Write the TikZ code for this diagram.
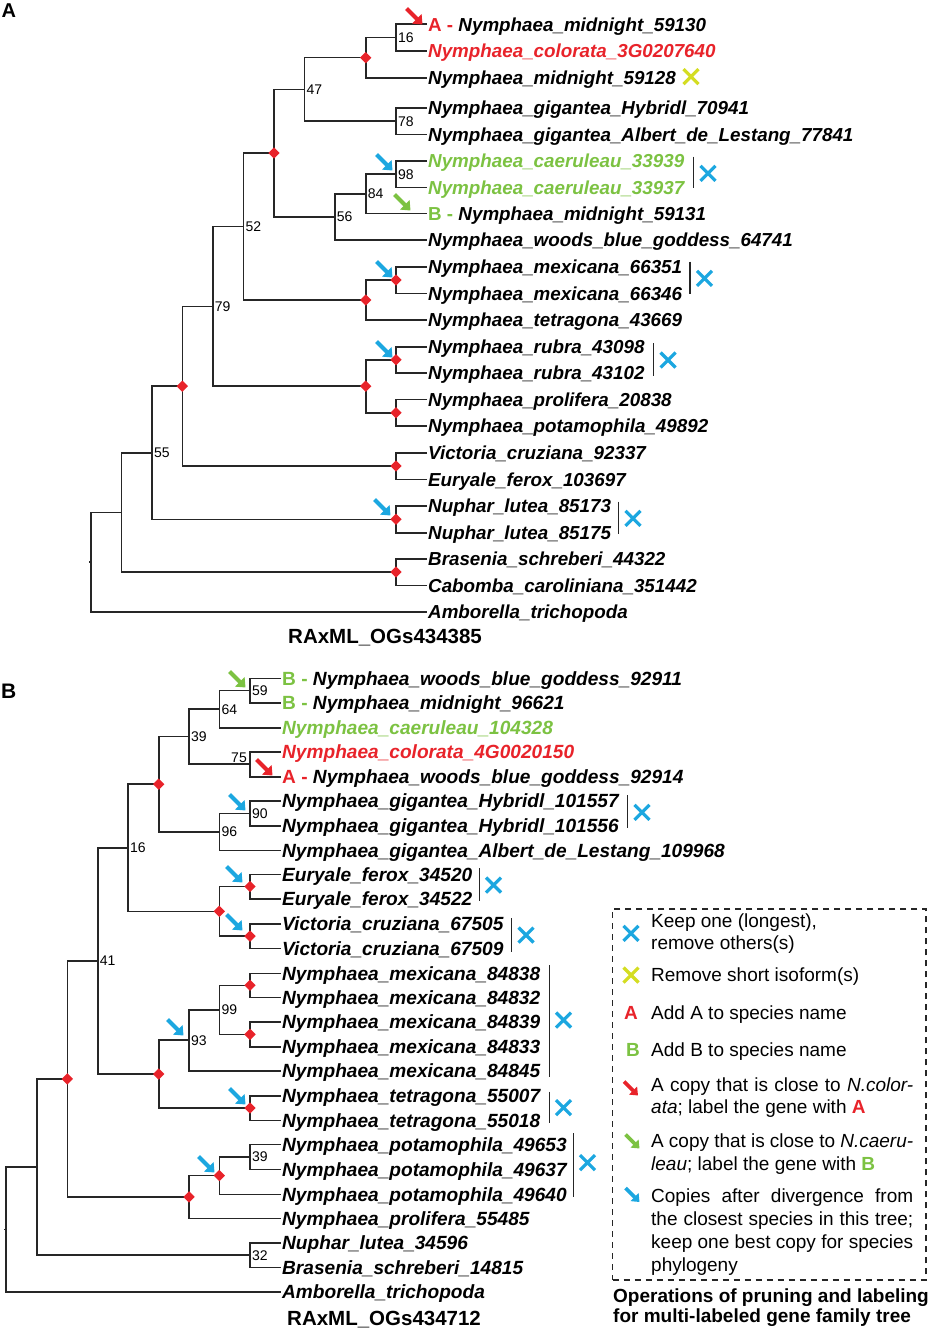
\documentclass[tikz,border=0pt]{standalone}
\usepackage{fontspec}
\setmainfont{Liberation Sans}
\usetikzlibrary{shapes.geometric,arrows.meta}
\definecolor{tred}{HTML}{E8232A}
\definecolor{tgreen}{HTML}{7CC242}
\definecolor{tblue}{HTML}{1CA7E0}
\definecolor{tyellow}{HTML}{D4DD22}
\begin{document}
\begin{tikzpicture}[x=1pt,y=-1pt,
  br/.style={line width=1.6pt,draw=black!85},
  bar/.style={line width=1.5pt,draw=black!85},
  labA/.style={anchor=west,inner xsep=1pt,inner ysep=0pt,text height=13.5pt,text depth=0pt,font=\fontsize{18.8}{20}\selectfont\bfseries\itshape},
  labB/.style={anchor=west,inner xsep=1pt,inner ysep=0pt,text height=13.5pt,text depth=0pt,font=\fontsize{19.1}{20}\selectfont\bfseries\itshape},
  sup/.style={anchor=west,inner xsep=1pt,inner ysep=0pt,text height=10pt,text depth=0pt,font=\fontsize{14}{15}\selectfont},
  dia/.style={diamond,fill=tred,inner sep=0pt,minimum size=11.5pt},
  leg/.style={anchor=base west,inner sep=0pt,font=\fontsize{19}{22}\selectfont},
  legt/.style={anchor=base west,inner sep=0pt,font=\fontsize{19}{22}\selectfont\bfseries},
  pics/xm/.style={code={\draw[line width=3.2pt,#1] (-7.5,-7.5)--(7.5,7.5) (-7.5,7.5)--(7.5,-7.5);}},
  pics/ar/.style={code={\draw[line width=4.2pt,#1,-{Triangle[width=13pt,length=8pt]}] (-8,-8)--(8,8);}},
  pics/ars/.style={code={\draw[line width=3.6pt,#1,-{Triangle[width=11pt,length=7pt]}] (-7,-7)--(7,7);}}
]
\useasboundingbox (0,0) rectangle (934,1330);

% ---------------- Panel A ----------------
\node[anchor=base west,inner sep=0pt,font=\fontsize{20}{22}\selectfont\bfseries] (pA) at (1.5,18) {A};

\node[labA] (tA1) at (427,24.3) {{\upshape\color{tred}A -} Nymphaea\_midnight\_59130};
\node[labA,text=tred] (tA2) at (427,51) {Nymphaea\_colorata\_3G0207640};
\node[labA] (tA3) at (427,77.7) {Nymphaea\_midnight\_59128};
\node[labA] (tA4) at (427,107.7) {Nymphaea\_gigantea\_Hybridl\_70941};
\node[labA] (tA5) at (427,134.3) {Nymphaea\_gigantea\_Albert\_de\_Lestang\_77841};
\node[labA,text=tgreen] (tA6) at (427,160.7) {Nymphaea\_caeruleau\_33939};
\node[labA,text=tgreen] (tA7) at (427,187.3) {Nymphaea\_caeruleau\_33937};
\node[labA] (tA8) at (427,213.3) {{\upshape\color{tgreen}B -} Nymphaea\_midnight\_59131};
\node[labA] (tA9) at (427,240) {Nymphaea\_woods\_blue\_goddess\_64741};
\node[labA] (tA10) at (427,266.7) {Nymphaea\_mexicana\_66351};
\node[labA] (tA11) at (427,293.3) {Nymphaea\_mexicana\_66346};
\node[labA] (tA12) at (427,320) {Nymphaea\_tetragona\_43669};
\node[labA] (tA13) at (427,346.7) {Nymphaea\_rubra\_43098};
\node[labA] (tA14) at (427,372.7) {Nymphaea\_rubra\_43102};
\node[labA] (tA15) at (427,399.3) {Nymphaea\_prolifera\_20838};
\node[labA] (tA16) at (427,426) {Nymphaea\_potamophila\_49892};
\node[labA] (tA17) at (427,452.7) {Victoria\_cruziana\_92337};
\node[labA] (tA18) at (427,479.3) {Euryale\_ferox\_103697};
\node[labA] (tA19) at (427,506) {Nuphar\_lutea\_85173};
\node[labA] (tA20) at (427,532.7) {Nuphar\_lutea\_85175};
\node[labA] (tA21) at (427,558.7) {Brasenia\_schreberi\_44322};
\node[labA] (tA22) at (427,585.3) {Cabomba\_caroliniana\_351442};
\node[labA] (tA23) at (427,612) {Amborella\_trichopoda};

\coordinate (n16) at (396,37.7);
\coordinate (nA1) at (365.7,57.7);
\coordinate (n78) at (396,121);
\coordinate (n47) at (304.3,89.3);
\coordinate (n98) at (396,174);
\coordinate (n84) at (365.7,193.7);
\coordinate (n56) at (334.7,216.8);
\coordinate (nD2) at (274,153);
\coordinate (nMex) at (396,280);
\coordinate (nMT) at (365.7,300);
\coordinate (n52) at (243.3,226.5);
\coordinate (nRub) at (396,359.7);
\coordinate (nPP) at (396,412.7);
\coordinate (nRP) at (365.7,386.2);
\coordinate (n79) at (212.7,306.3);
\coordinate (nVE) at (396,466);
\coordinate (nD3) at (182.3,386.2);
\coordinate (nNu) at (396,519.3);
\coordinate (n55) at (152,452.8);
\coordinate (nBC) at (396,572);
\coordinate (nX) at (121.3,512.4);
\coordinate (rA) at (91,562.2);

\draw[br] (tA1.west) -| (n16) |- (tA2.west);
\draw[br] (n16) -| (nA1) |- (tA3.west);
\draw[br] (tA4.west) -| (n78) |- (tA5.west);
\draw[br] (nA1) -| (n47) |- (n78);
\draw[br] (tA6.west) -| (n98) |- (tA7.west);
\draw[br] (n98) -| (n84) |- (tA8.west);
\draw[br] (n84) -| (n56) |- (tA9.west);
\draw[br] (n47) -| (nD2) |- (n56);
\draw[br] (tA10.west) -| (nMex) |- (tA11.west);
\draw[br] (nMex) -| (nMT) |- (tA12.west);
\draw[br] (nD2) -| (n52) |- (nMT);
\draw[br] (tA13.west) -| (nRub) |- (tA14.west);
\draw[br] (tA15.west) -| (nPP) |- (tA16.west);
\draw[br] (nRub) -| (nRP) |- (nPP);
\draw[br] (n52) -| (n79) |- (nRP);
\draw[br] (tA17.west) -| (nVE) |- (tA18.west);
\draw[br] (n79) -| (nD3) |- (nVE);
\draw[br] (tA19.west) -| (nNu) |- (tA20.west);
\draw[br] (nD3) -| (n55) |- (nNu);
\draw[br] (tA21.west) -| (nBC) |- (tA22.west);
\draw[br] (n55) -| (nX) |- (nBC);
\draw[br] (nX) -| (rA) |- (tA23.west);
\draw[br] (rA) -- ++(-2,0);

\foreach \c in {nA1,nD2,nMex,nMT,nRub,nPP,nRP,nVE,nD3,nNu,nBC}
  \node[dia] (d\c) at (\c) {};

\node[sup] (sA16) at (397,37.7) {16};
\node[sup] (sA47) at (305.3,89.3) {47};
\node[sup] (sA78) at (397,121) {78};
\node[sup] (sA98) at (397,174) {98};
\node[sup] (sA84) at (366.7,193.7) {84};
\node[sup] (sA56) at (335.7,216.8) {56};
\node[sup] (sA52) at (244.3,226.5) {52};
\node[sup] (sA79) at (213.7,306.3) {79};
\node[sup] (sA55) at (153,452.8) {55};

\pic at (414.5,16.5) {ar=tred};
\pic at (384.5,162.5) {ar=tblue};
\pic at (402.5,202.5) {ar=tgreen};
\pic at (384.5,269.5) {ar=tblue};
\pic at (384.5,349.5) {ar=tblue};
\pic at (382.5,507.5) {ar=tblue};

\pic at (691,76.7) {xm=tyellow};
\draw[bar] (693.3,156.7) -- (693.3,188.3);
\pic at (708,173.3) {xm=tblue};
\draw[bar] (690,261.7) -- (690,294);
\pic at (704.5,278.3) {xm=tblue};
\draw[bar] (653.3,343.3) -- (653.3,376);
\pic at (668,360) {xm=tblue};
\draw[bar] (618.3,501.7) -- (618.3,534.3);
\pic at (633,518.3) {xm=tblue};

\node[anchor=base west,inner sep=0pt,font=\fontsize{20.5}{22}\selectfont\bfseries] (titA) at (288,643.3) {RAxML\_OGs434385};

% ---------------- Panel B ----------------
\node[anchor=base west,inner sep=0pt,font=\fontsize{21}{22}\selectfont\bfseries] (pB) at (1,698) {B};

\node[labB] (tB1) at (281,678.3) {{\upshape\color{tgreen}B -} Nymphaea\_woods\_blue\_goddess\_92911};
\node[labB] (tB2) at (281,702.7) {{\upshape\color{tgreen}B -} Nymphaea\_midnight\_96621};
\node[labB,text=tgreen] (tB3) at (281,727.7) {Nymphaea\_caeruleau\_104328};
\node[labB,text=tred] (tB4) at (281,751.7) {Nymphaea\_colorata\_4G0020150};
\node[labB] (tB5) at (281,776.7) {{\upshape\color{tred}A -} Nymphaea\_woods\_blue\_goddess\_92914};
\node[labB] (tB6) at (281,801) {Nymphaea\_gigantea\_Hybridl\_101557};
\node[labB] (tB7) at (281,825.7) {Nymphaea\_gigantea\_Hybridl\_101556};
\node[labB] (tB8) at (281,850.3) {Nymphaea\_gigantea\_Albert\_de\_Lestang\_109968};
\node[labB] (tB9) at (281,874.3) {Euryale\_ferox\_34520};
\node[labB] (tB10) at (281,898.7) {Euryale\_ferox\_34522};
\node[labB] (tB11) at (281,924) {Victoria\_cruziana\_67505};
\node[labB] (tB12) at (281,948.3) {Victoria\_cruziana\_67509};
\node[labB] (tB13) at (281,973.3) {Nymphaea\_mexicana\_84838};
\node[labB] (tB14) at (281,997.3) {Nymphaea\_mexicana\_84832};
\node[labB] (tB15) at (281,1022) {Nymphaea\_mexicana\_84839};
\node[labB] (tB16) at (281,1046.7) {Nymphaea\_mexicana\_84833};
\node[labB] (tB17) at (281,1070.7) {Nymphaea\_mexicana\_84845};
\node[labB] (tB18) at (281,1095.7) {Nymphaea\_tetragona\_55007};
\node[labB] (tB19) at (281,1120.3) {Nymphaea\_tetragona\_55018};
\node[labB] (tB20) at (281,1144.3) {Nymphaea\_potamophila\_49653};
\node[labB] (tB21) at (281,1169.3) {Nymphaea\_potamophila\_49637};
\node[labB] (tB22) at (281,1194.3) {Nymphaea\_potamophila\_49640};
\node[labB] (tB23) at (281,1218.3) {Nymphaea\_prolifera\_55485};
\node[labB] (tB24) at (281,1243) {Nuphar\_lutea\_34596};
\node[labB] (tB25) at (281,1267.3) {Brasenia\_schreberi\_14815};
\node[labB] (tB26) at (281,1292) {Amborella\_trichopoda};

\coordinate (b59) at (250,690.5);
\coordinate (b64) at (219.3,709.1);
\coordinate (b75) at (250,764.2);
\coordinate (b39) at (189,736.65);
\coordinate (b90) at (250,813.35);
\coordinate (b96) at (219.3,831.8);
\coordinate (bD1) at (158.7,784.2);
\coordinate (bEu) at (250,886.5);
\coordinate (bVi) at (250,936.15);
\coordinate (bD2) at (219.3,911.3);
\coordinate (b16) at (128,847.8);
\coordinate (bM1) at (250,985.3);
\coordinate (bM2) at (250,1034.35);
\coordinate (b99) at (219.3,1009.8);
\coordinate (b93) at (189,1040.25);
\coordinate (bT) at (250,1108);
\coordinate (bD3) at (158.7,1074.1);
\coordinate (b41) at (97.7,960.95);
\coordinate (bP39) at (250,1156.8);
\coordinate (bPD) at (219.3,1175.55);
\coordinate (bPP) at (189,1196.9);
\coordinate (bD4) at (67.3,1078.9);
\coordinate (b32) at (250,1255.15);
\coordinate (bN) at (36.7,1167);
\coordinate (rB) at (6,1229.5);

\draw[br] (tB1.west) -| (b59) |- (tB2.west);
\draw[br] (b59) -| (b64) |- (tB3.west);
\draw[br] (tB4.west) -| (b75) |- (tB5.west);
\draw[br] (b64) -| (b39) |- (b75);
\draw[br] (tB6.west) -| (b90) |- (tB7.west);
\draw[br] (b90) -| (b96) |- (tB8.west);
\draw[br] (b39) -| (bD1) |- (b96);
\draw[br] (tB9.west) -| (bEu) |- (tB10.west);
\draw[br] (tB11.west) -| (bVi) |- (tB12.west);
\draw[br] (bEu) -| (bD2) |- (bVi);
\draw[br] (bD1) -| (b16) |- (bD2);
\draw[br] (tB13.west) -| (bM1) |- (tB14.west);
\draw[br] (tB15.west) -| (bM2) |- (tB16.west);
\draw[br] (bM1) -| (b99) |- (bM2);
\draw[br] (b99) -| (b93) |- (tB17.west);
\draw[br] (tB18.west) -| (bT) |- (tB19.west);
\draw[br] (b93) -| (bD3) |- (bT);
\draw[br] (b16) -| (b41) |- (bD3);
\draw[br] (tB20.west) -| (bP39) |- (tB21.west);
\draw[br] (bP39) -| (bPD) |- (tB22.west);
\draw[br] (bPD) -| (bPP) |- (tB23.west);
\draw[br] (b41) -| (bD4) |- (bPP);
\draw[br] (tB24.west) -| (b32) |- (tB25.west);
\draw[br] (bD4) -| (bN) |- (b32);
\draw[br] (bN) -| (rB) |- (tB26.west);
\draw[br] (rB) -- ++(-2,0);

\foreach \c in {bD1,bEu,bVi,bD2,bM1,bM2,bT,bD3,bD4,bPD,bPP}
  \node[dia] (d\c) at (\c) {};

\node[sup] (sB59) at (251,690.5) {59};
\node[sup] (sB64) at (220.3,709.1) {64};
\node[sup] (sB39) at (190,736.65) {39};
\node[sup,anchor=east] (sB75) at (248,757.3) {75};
\node[sup] (sB90) at (251,813.35) {90};
\node[sup] (sB96) at (220.3,831.8) {96};
\node[sup] (sB16) at (129,847.8) {16};
\node[sup] (sB41) at (98.7,960.95) {41};
\node[sup] (sB99) at (220.3,1009.8) {99};
\node[sup] (sB93) at (190,1040.25) {93};
\node[sup] (sBp39) at (251,1156.8) {39};
\node[sup] (sB32) at (251,1255.15) {32};

\pic at (237.5,679.5) {ar=tgreen};
\pic at (264.5,767.5) {ar=tred};
\pic at (237.5,802.5) {ar=tblue};
\pic at (234.5,874.5) {ar=tblue};
\pic at (234.5,922.5) {ar=tblue};
\pic at (175.5,1027.5) {ar=tblue};
\pic at (237.5,1096.5) {ar=tblue};
\pic at (206.5,1164.5) {ar=tblue};

\draw[bar] (627.7,795) -- (627.7,828.3);
\pic at (642,812.3) {xm=tblue};
\draw[bar] (479.3,868.3) -- (479.3,900.7);
\pic at (493.5,885) {xm=tblue};
\draw[bar] (511.7,918.3) -- (511.7,951.7);
\pic at (526,935) {xm=tblue};
\draw[bar] (549.3,965) -- (549.3,1076.7);
\pic at (563.5,1020) {xm=tblue};
\draw[bar] (549.3,1091.7) -- (549.3,1123.3);
\pic at (563.5,1107.7) {xm=tblue};
\draw[bar] (573.3,1133.3) -- (573.3,1196.7);
\pic at (587.5,1162.7) {xm=tblue};

\node[anchor=base west,inner sep=0pt,font=\fontsize{20.5}{22}\selectfont\bfseries] (titB) at (287,1325) {RAxML\_OGs434712};

% ---------------- Legend ----------------
\node[draw=black!85,line width=1.2pt,dash pattern=on 6pt off 5pt,minimum width=313.3pt,minimum height=371pt,inner sep=0pt] (legend) at (769.35,1094.5) {};

\pic at (631,933.3) {xm=tblue};
\pic at (631,975) {xm=tyellow};
\node[anchor=base,inner sep=0pt,font=\fontsize{19}{22}\selectfont\bfseries,text=tred] (lgA) at (631,1019.3) {A};
\node[anchor=base,inner sep=0pt,font=\fontsize{19}{22}\selectfont\bfseries,text=tgreen] (lgB) at (633,1056) {B};
\pic at (631,1088.5) {ars=tred};
\pic at (632.5,1141.5) {ars=tgreen};
\pic at (632.5,1195) {ars=tblue};

\node[leg] (l1) at (651,927.3) {Keep one (longest),};
\node[leg] (l2) at (651,949.5) {remove others(s)};
\node[leg] (l3) at (651,981) {Remove short isoform(s)};
\node[leg] (l4) at (651,1019.3) {Add A to species name};
\node[leg] (l5) at (651,1056) {Add B to species name};
\node[leg] (l6) at (651,1091.7) {\makebox[262pt][s]{A copy that is close to \textit{N.color-}}};
\node[leg] (l7) at (651,1113.5) {\textit{ata}; label the gene with {\bfseries\color{tred}A}};
\node[leg] (l8) at (651,1147.3) {\makebox[262pt][s]{A copy that is close to \textit{N.caeru-}}};
\node[leg] (l9) at (651,1170) {\textit{leau}; label the gene with {\bfseries\color{tgreen}B}};
\node[leg] (l10) at (651,1202.3) {\makebox[262pt][s]{Copies after divergence from}};
\node[leg] (l11) at (651,1225.3) {\makebox[262pt][s]{the closest species in this tree;}};
\node[leg] (l12) at (651,1248.3) {\makebox[262pt][s]{keep one best copy for species}};
\node[leg] (l13) at (651,1271) {phylogeny};

\node[legt] (lt1) at (613,1302.3) {Operations of pruning and labeling};
\node[legt] (lt2) at (613,1322.7) {for multi-labeled gene family tree};
\end{tikzpicture}
\end{document}
